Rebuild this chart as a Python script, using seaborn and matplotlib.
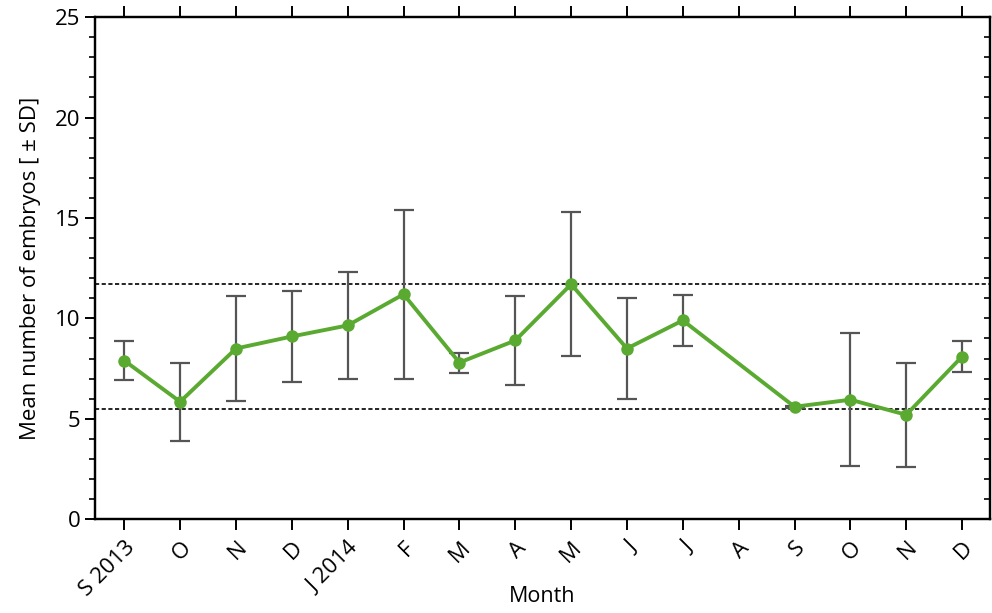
import numpy as np
import pandas as pd
import matplotlib
matplotlib.use("Agg")
import matplotlib.pyplot as plt
import seaborn as sns
from matplotlib.ticker import MultipleLocator

# Data
months = ["S 2013", "O", "N", "D", "J 2014", "F", "M", "A", "M", "J", "J", "A", "S", "O", "N", "D"]
mean_embryos = [7.9, 5.85, 8.5, 9.1, 9.65, 11.2, 7.8, 8.9, 11.7, 8.5, 9.9, np.nan, 5.6, 5.95, 5.2, 8.1]
sd_embryos = [0.95, 1.95, 2.6, 2.25, 2.68, 4.2, 0.5, 2.2, 3.58, 2.5, 1.28, np.nan, 0.05, 3.3, 2.6, 0.78]
ref_lines = [11.7, 5.5]

df = pd.DataFrame({"pos": np.arange(len(months)), "mean": mean_embryos, "sd": sd_embryos})

sns.set_style("ticks")
plt.rcParams["font.family"] = ["Open Sans", "DejaVu Sans"]
plt.rcParams["text.color"] = "black"
plt.rcParams["axes.labelcolor"] = "black"
plt.rcParams["xtick.color"] = "black"
plt.rcParams["ytick.color"] = "black"
plt.rcParams["axes.edgecolor"] = "black"

fig = plt.figure(figsize=(9.92, 6.13), dpi=100)
ax = fig.add_axes([0.096, 0.153, 0.902, 0.819])

# reference (dotted) lines
for y in ref_lines:
    ax.axhline(y, color="black", linestyle=(0, (2.5, 1.5)), linewidth=1.2, zorder=1)

# error bars
ax.errorbar(df["pos"], df["mean"], yerr=df["sd"], fmt="none", ecolor="#555555",
            elinewidth=1.6, capsize=7, capthick=1.6, zorder=2)

# mean line
sns.lineplot(data=df.dropna(), x="pos", y="mean", marker="o", color="#5aaa32",
             linewidth=2.8, markersize=9, markeredgewidth=0, ax=ax, zorder=3)

ax.set_xlim(-0.52, 15.5)
ax.set_ylim(0, 25)
ax.set_xticks(df["pos"])
ax.set_xticklabels(months, rotation=45, ha="right", rotation_mode="anchor", fontsize=16)
ax.yaxis.set_major_locator(MultipleLocator(5))
ax.yaxis.set_minor_locator(MultipleLocator(1))
ax.tick_params(axis="y", which="major", labelsize=16, length=7, width=1.4, direction="out")
ax.tick_params(axis="y", which="minor", length=4, width=1.2, direction="out")
ax.tick_params(axis="x", which="major", length=8, width=1.4, direction="out", top=True, pad=5)
ax.tick_params(axis="x", which="minor", bottom=False, top=False)

# right spine with inward minor ticks
ax2 = ax.twinx()
ax2.set_ylim(0, 25)
ax2.yaxis.set_major_locator(MultipleLocator(1))
ax2.tick_params(axis="y", direction="in", length=4, width=1.2, labelright=False)

for a in (ax, ax2):
    for sp in a.spines.values():
        sp.set_linewidth(1.6)
        sp.set_visible(True)

ax.set_xlabel("Month", fontsize=15.5)
ax.xaxis.set_label_coords(0.5, -0.133)
ax.set_ylabel("Mean number of embryos [ ± SD]", fontsize=16, labelpad=10)

fig.savefig("out.png", dpi=100)
